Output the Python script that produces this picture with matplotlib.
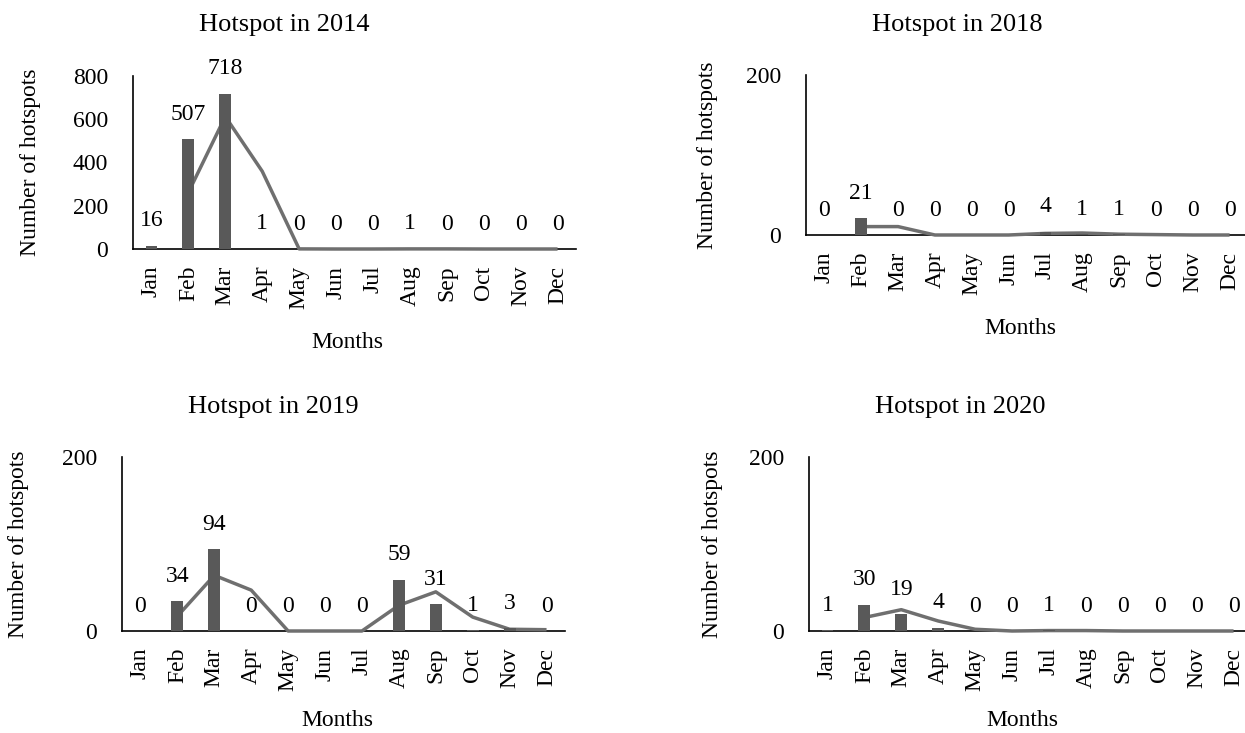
import numpy as np
import pandas as pd
import matplotlib.pyplot as plt

plt.rcParams['font.family'] = ['Liberation Serif', 'DejaVu Serif']

months = ['Jan', 'Feb', 'Mar', 'Apr', 'May', 'Jun',
          'Jul', 'Aug', 'Sep', 'Oct', 'Nov', 'Dec']

hotspots_2014 = [16, 507, 718, 1, 0, 0, 0, 1, 0, 0, 0, 0]
hotspots_2018 = [0, 21, 0, 0, 0, 0, 4, 1, 1, 0, 0, 0]
hotspots_2019 = [0, 34, 94, 0, 0, 0, 0, 59, 31, 1, 3, 0]
hotspots_2020 = [1, 30, 19, 4, 0, 0, 1, 0, 0, 0, 0, 0]

years = ['2014', '2018', '2019', '2020']
series = [hotspots_2014, hotspots_2018, hotspots_2019, hotspots_2020]
y_max = [800, 200, 200, 200]
y_ticks = [[0, 200, 400, 600, 800], [0, 200], [0, 200], [0, 200]]

W, H = 1245, 733
fig = plt.figure(figsize=(W / 100, H / 100), dpi=100)

# panel boxes in pixels: left, right, top, bottom
boxes = [(133, 576, 76, 249), (806, 1248, 75, 235),
         (122, 565, 457, 631), (809, 1252, 457, 631)]
title_pos = [(284, 25), (957, 25), (273, 407), (960, 407)]
xlab_pos = [(347, 342), (1020, 328), (337, 720), (1022, 720)]
ylab_pos = [(31, 162), (708, 155), (19, 544), (713, 544)]

bar_color = '#595959'
line_color = '#6f6f6f'


def px(x, y):
    return x / W, 1 - y / H


for i in range(4):
    l, r, t, b = boxes[i]
    ax = fig.add_axes([l / W, 1 - b / H, (r - l) / W, (b - t) / H])
    vals = np.array(series[i])
    x = np.arange(12)

    # bars sit on top of the trendline, the trendline on top of the axis
    ax.bar(x, vals, width=0.32, color=bar_color, zorder=4)
    # two-month moving average trendline
    ma = pd.Series(vals, dtype=float).rolling(2).mean()
    ax.plot(x, ma, color=line_color, lw=2.5, zorder=3, clip_on=False,
            solid_capstyle='butt')

    for xi, v in zip(x, vals):
        ax.annotate(str(v), (xi, v), xytext=(0, 18), textcoords='offset points',
                    ha='center', va='center', fontsize=17)

    ax.set_xlim(-0.5, 11.5)
    ax.set_ylim(0, y_max[i])
    ax.set_yticks(y_ticks[i])
    ax.set_xticks(x)
    ax.set_xticklabels(months, rotation=90, fontsize=17)
    ax.tick_params(axis='y', length=0, pad=18, labelsize=17)
    ax.tick_params(axis='x', length=0, pad=12)
    for side in ['top', 'right']:
        ax.spines[side].set_visible(False)
    for side in ['left', 'bottom']:
        ax.spines[side].set_linewidth(1.2)
        ax.spines[side].set_color('black')
        ax.spines[side].set_zorder(2)

    fig.text(*px(*title_pos[i]), 'Hotspot in ' + years[i], ha='center',
             va='center', fontsize=19)
    fig.text(*px(*xlab_pos[i]), 'Months', ha='center', va='center', fontsize=17)
    fig.text(*px(*ylab_pos[i]), 'Number of hotspots', ha='center',
             va='center', rotation=90, fontsize=17)

plt.savefig('out.png', dpi=100)
